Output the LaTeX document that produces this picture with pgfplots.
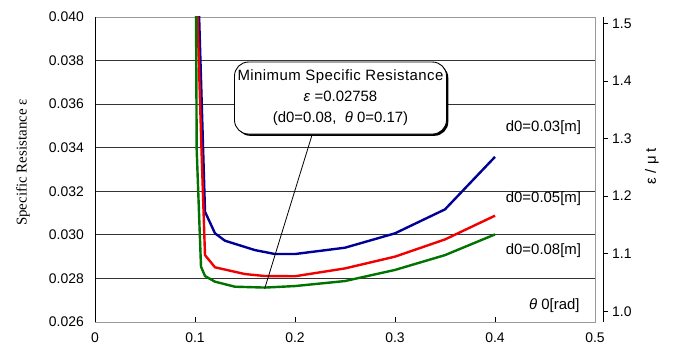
\documentclass[border=0pt]{standalone}
\usepackage{fontspec}
\setmainfont{Liberation Sans}
\newfontfamily\seriffont{Liberation Serif}
\usepackage{pgfplots}
\pgfplotsset{compat=1.18}
\usetikzlibrary{shadows}
\definecolor{cblue}{RGB}{0,0,150}
\definecolor{cred}{RGB}{240,0,0}
\definecolor{cgreen}{RGB}{0,115,0}
\begin{document}
\fontsize{15}{18}\selectfont
\begin{tikzpicture}
\path[use as bounding box] (0,0) rectangle (677bp,352bp);
\begin{axis}[
  at={(95bp,30bp)}, anchor=south west,
  scale only axis, width=500bp, height=305bp,
  xmin=0, xmax=0.5, ymin=0.026, ymax=0.040,
  xtick={0,0.1,0.2,0.3,0.4,0.5}, xticklabels={0,0.1,0.2,0.3,0.4,0.5},
  ytick={0.026,0.028,0.030,0.032,0.034,0.036,0.038,0.040},
  yticklabels={0.026,0.028,0.030,0.032,0.034,0.036,0.038,0.040},
  ymajorgrids, grid style={black!80, line width=0.8bp},
  axis line style={black!40, line width=0.8bp},
  tick align=inside, xtick pos=bottom, ytick pos=left,
  x tick style={black, line width=0.8bp}, major tick length=5bp,
  y tick style={draw=none},
  ticklabel style={font=\fontsize{14}{16}\selectfont},
  xticklabel style={yshift=-6bp},
  yticklabel style={xshift=-6bp},
  scaled ticks=false,
  /pgf/number format/assume math mode=true,
]
\addplot[cblue, line width=2.4bp] coordinates {
 (0.1038,0.0405) (0.110,0.03106) (0.120,0.03007) (0.130,0.02973) (0.160,0.02930)
 (0.180,0.02912) (0.200,0.02912) (0.250,0.02941) (0.300,0.03007) (0.350,0.03117) (0.400,0.03358)};
\addplot[cred, line width=2.4bp] coordinates {
 (0.1022,0.0405) (0.1065,0.0339) (0.110,0.02907) (0.120,0.02851) (0.150,0.02820) (0.170,0.02811)
 (0.200,0.02810) (0.250,0.02846) (0.300,0.02900) (0.350,0.02979) (0.400,0.03088)};
\addplot[cgreen, line width=2.4bp] coordinates {
 (0.1010,0.0405) (0.1017,0.0339) (0.106,0.02854) (0.110,0.02811) (0.120,0.02785) (0.140,0.02762)
 (0.170,0.02758) (0.200,0.02765) (0.250,0.02788) (0.300,0.02839) (0.350,0.02907) (0.400,0.03002)};
\draw[black, line width=0.8bp] (rel axis cs:0,1) -- (rel axis cs:0,0) -- (rel axis cs:1,0);
\draw[black, line width=0.8bp] (axis cs:0.217,0.03458) -- (axis cs:0.17,0.02758);
\node[draw=black, line width=0.9bp, fill=white, rounded corners=14bp, align=center,
  minimum width=212bp, minimum height=72bp, inner sep=2bp,
  drop shadow={shadow xshift=1.8bp, shadow yshift=-1.8bp, opacity=1, fill=black}]
  at (axis cs:0.2455,0.03628) {\addfontfeatures{LetterSpace=3}Minimum Specific Resistance\\[3bp] \textit{ε} =0.02758\\[3bp] (d0=0.08,\ \ \textit{θ} 0=0.17)};
\node[anchor=west] at (axis cs:0.4057,0.03490) {d0=0.03[m]};
\node[anchor=west] at (axis cs:0.4057,0.03168) {d0=0.05[m]};
\node[anchor=west] at (axis cs:0.4057,0.02929) {d0=0.08[m]};
\node[anchor=west] at (axis cs:0.429,0.02674) {\textit{θ} 0[rad]};
\end{axis}
\begin{axis}[
  at={(103bp,30bp)}, anchor=south west,
  scale only axis, width=500bp, height=305bp,
  xmin=0, xmax=0.5, ymin=0.9814, ymax=1.511,
  axis x line=none, axis y line*=right,
  ytick={1.0,1.1,1.2,1.3,1.4,1.5}, yticklabels={1.0,1.1,1.2,1.3,1.4,1.5},
  tick align=outside, major tick length=5bp,
  axis line style={black, line width=0.8bp},
  y tick style={black, line width=0.8bp},
  ticklabel style={font=\fontsize{14}{16}\selectfont},
  yticklabel style={xshift=-1bp},
  /pgf/number format/assume math mode=true,
]
\end{axis}
\node[rotate=90, font=\seriffont\fontsize{15}{18}\selectfont] at (23bp,189.5bp) {Specific Resistance ε};
\node[rotate=90] at (652bp,186bp) {ε / μ t};
\end{tikzpicture}
\end{document}
